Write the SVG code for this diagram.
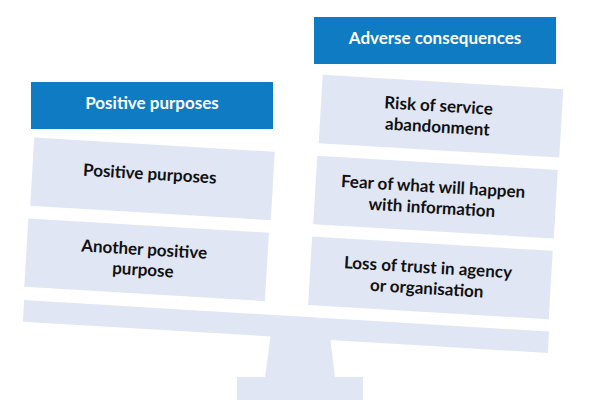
<svg xmlns="http://www.w3.org/2000/svg" width="600" height="414" viewBox="0 0 600 414">
<style>
.hdr{fill:#0f7bc3}
.box{fill:#e0e6f4}
.ht{font-family:Lato,"Liberation Sans",sans-serif;font-weight:bold;font-size:17px;fill:#ffffff;text-anchor:middle}
.bt{font-family:Lato,"Liberation Sans",sans-serif;font-weight:bold;font-size:17px;fill:#111111;text-anchor:middle}
</style>
<rect width="600" height="414" fill="#ffffff"/>
<g id="scale">
<polygon class="box" points="24,300 549,331.5 548,353 23,321.7"/>
<polygon class="box" points="271,332 330,335.5 335,378 265,378"/>
<rect class="box" x="237" y="377" width="126" height="23"/>
</g>
<g id="connectors"></g>
<g id="header-left">
<rect class="hdr" x="31" y="82" width="242" height="47"/>
<text class="ht" x="152" y="109">Positive purposes</text>
</g>
<g id="header-right">
<rect class="hdr" x="314" y="17" width="242" height="47"/>
<text class="ht" x="435" y="44">Adverse consequences</text>
</g>
<g id="left-1" transform="translate(152.5,178.8) rotate(3.4)">
<rect class="box" x="-120.5" y="-34.25" width="241" height="68.5"/>
<text class="bt" x="-3" y="1">Positive purposes</text>
</g>
<g id="left-2" transform="translate(146.6,259.8) rotate(3.4)">
<rect class="box" x="-120.5" y="-34.25" width="241" height="68.5"/>
<text class="bt" x="-3" y="-4.5">Another positive</text>
<text class="bt" x="-3" y="16">purpose</text>
</g>
<g id="right-1" transform="translate(441,116.2) rotate(3.4)">
<rect class="box" x="-120.5" y="-34.25" width="241" height="68.5"/>
<text class="bt" x="-3" y="-4.5">Risk of service</text>
<text class="bt" x="-3" y="16.5">abandonment</text>
</g>
<g id="right-2" transform="translate(435.5,197.1) rotate(3.4)">
<rect class="box" x="-120.5" y="-34.25" width="241" height="68.5"/>
<text class="bt" x="-3" y="-4.5">Fear of what will happen</text>
<text class="bt" x="-3" y="16.5">with information</text>
</g>
<g id="right-3" transform="translate(430.4,277.9) rotate(3.4)">
<rect class="box" x="-120.5" y="-34.25" width="241" height="68.5"/>
<text class="bt" x="-3" y="-4.5">Loss of trust in agency</text>
<text class="bt" x="-3" y="16.5">or organisation</text>
</g>
</svg>
